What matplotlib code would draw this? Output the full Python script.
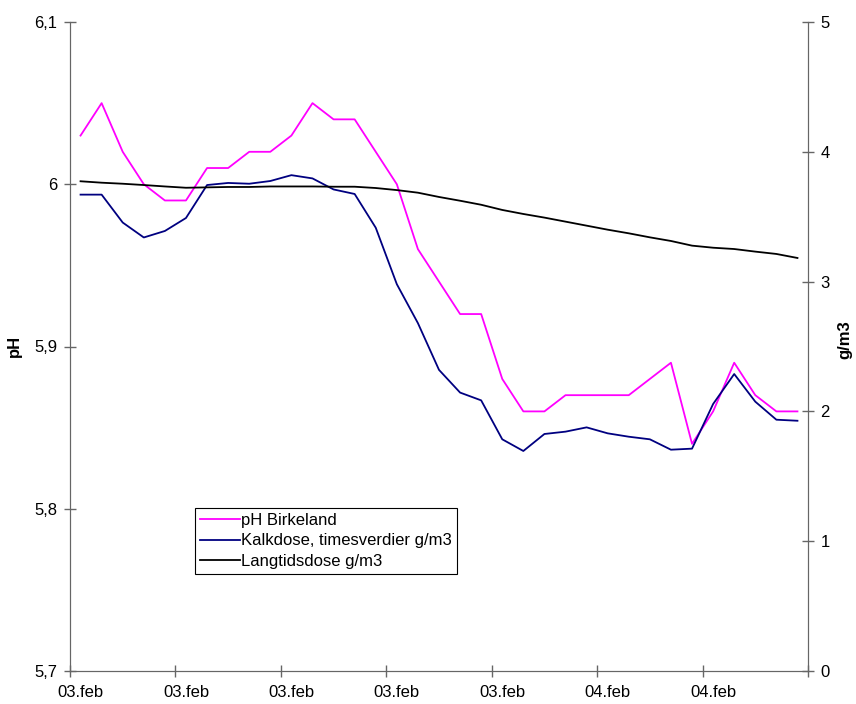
import matplotlib.pyplot as plt
import numpy as np

plt.rcParams['font.family'] = ['Liberation Sans', 'DejaVu Sans']

# pH Birkeland (left axis)
ph = [6.03, 6.05, 6.02, 6.00, 5.99, 5.99, 6.01, 6.01, 6.02, 6.02,
      6.03, 6.05, 6.04, 6.04, 6.02, 6.00, 5.96, 5.94, 5.92, 5.92,
      5.88, 5.86, 5.86, 5.87, 5.87, 5.87, 5.87, 5.88, 5.89, 5.84,
      5.86, 5.89, 5.87, 5.86, 5.86]

# Kalkdose, timesverdier g/m3 (right axis)
kalk = [3.67, 3.67, 3.455, 3.34, 3.39, 3.49, 3.744, 3.76, 3.754, 3.775,
        3.82, 3.795, 3.71, 3.675, 3.415, 2.98, 2.68, 2.32, 2.145, 2.085,
        1.785, 1.695, 1.826, 1.844, 1.877, 1.831, 1.805, 1.785, 1.705, 1.713,
        2.057, 2.288, 2.075, 1.936, 1.928]

# Langtidsdose g/m3 (right axis)
lang = [3.773, 3.762, 3.754, 3.744, 3.733, 3.723, 3.726, 3.729, 3.729, 3.733,
        3.733, 3.733, 3.731, 3.731, 3.721, 3.705, 3.685, 3.652, 3.623, 3.592,
        3.552, 3.521, 3.493, 3.462, 3.431, 3.40, 3.372, 3.341, 3.313, 3.277,
        3.261, 3.251, 3.231, 3.213, 3.182]

x_labels = ['03.feb', '03.feb', '03.feb', '03.feb', '03.feb', '04.feb', '04.feb']
ph_ticks = [5.7, 5.8, 5.9, 6.0, 6.1]
ph_tick_labels = ['5,7', '5,8', '5,9', '6', '6,1']
g_ticks = [0, 1, 2, 3, 4, 5]

n = len(ph)
x = np.arange(n)
axis_col = '#666666'
fs = 12

fig = plt.figure(figsize=(8.56, 7.04), dpi=100)
ax = fig.add_axes([70 / 856, 1 - 671 / 704, 738 / 856, 649 / 704])
ax2 = ax.twinx()

l1, = ax.plot(x, ph, color='#FF00FF', lw=1.3, label='pH Birkeland')
l2, = ax2.plot(x, kalk, color='#000080', lw=1.3, label='Kalkdose, timesverdier g/m3')
l3, = ax2.plot(x, lang, color='black', lw=1.3, label='Langtidsdose g/m3')

ax.set_xlim(-0.5, n - 0.5)
ax.set_ylim(5.7, 6.1)
ax2.set_ylim(0, 5)

ax.set_yticks(ph_ticks)
ax.set_yticklabels(ph_tick_labels)
ax2.set_yticks(g_ticks)

# ticks at category boundaries every 5, labels on first category of each group
ax.set_xticks(np.arange(-0.5, n, 5))
ax.set_xticklabels([])
ax.set_xticks(np.arange(0, n, 5), minor=True)
ax.set_xticklabels(x_labels, minor=True)
ax.tick_params(axis='x', which='minor', length=0, pad=10, labelsize=fs)

for a in (ax, ax2):
    a.tick_params(axis='both', which='major', direction='inout', length=8,
                  width=1, color=axis_col, labelsize=fs, pad=5)
    a.spines['top'].set_visible(False)
    for s in ('left', 'right', 'bottom'):
        a.spines[s].set_color(axis_col)

fig.text(14 / 856, 1 - 346 / 704, 'pH', fontweight='bold', fontsize=fs,
         rotation=90, ha='center', va='center')
fig.text(845 / 856, 1 - 340 / 704, 'g/m3', fontweight='bold', fontsize=fs,
         rotation=90, ha='center', va='center')

leg = ax.legend(handles=[l1, l2, l3], loc='lower left',
                bbox_to_anchor=(0.169, 0.149), fontsize=fs, fancybox=False,
                framealpha=1, edgecolor='black', handlelength=2.4,
                handletextpad=0.1, borderpad=0.3, labelspacing=0.35,
                borderaxespad=0)
leg.get_frame().set_linewidth(0.8)

fig.savefig('out.png', dpi=100)
